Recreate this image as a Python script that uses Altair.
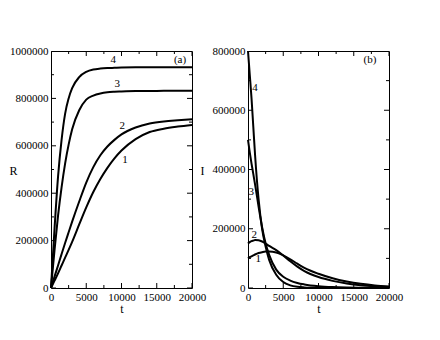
import altair as alt
import pandas as pd

# ---- data ----
t_R = [0, 500, 1000, 1500, 2000, 2500, 3000, 4000, 5000, 6000, 7000, 8000, 9000,
       10000, 12000, 14000, 16000, 18000, 20000]
R1 = [0, 31000, 62000, 95000, 128000, 161000, 195000, 268000, 340000, 405000, 460000,
      507000, 547000, 580000, 628000, 658000, 672000, 681000, 688000]
R2 = [0, 48000, 95000, 143000, 190000, 235000, 280000, 365000, 445000, 510000, 560000,
      597000, 625000, 648000, 677000, 694000, 703000, 708000, 712000]
R3 = [0, 160000, 305000, 425000, 525000, 605000, 670000, 750000, 795000, 812000, 821000,
      826000, 828000, 829000, 831000, 831000, 832000, 832000, 832000]
R4 = [0, 250000, 470000, 625000, 735000, 800000, 843000, 890000, 912000, 922000, 926000,
      928000, 929000, 930000, 931000, 931000, 931000, 931000, 931000]

t_I = [0, 250, 500, 750, 1000, 1500, 2000, 2500, 3000, 4000, 5000, 6000, 7000, 8000,
       10000, 12000, 14000, 16000, 18000, 20000]
I1 = [100000, 104000, 107000, 110000, 113000, 118000, 121000, 123000, 123000, 120000,
      110000, 97000, 82000, 68000, 48000, 33000, 22000, 14000, 8500, 5200]
I2 = [150000, 155000, 158000, 160000, 162000, 161000, 157000, 150000, 142000, 128000,
      110000, 90000, 72000, 57000, 37000, 24000, 15000, 9000, 5500, 3200]
I3 = [500000, 458000, 420000, 385000, 350000, 275000, 205000, 150000, 112000, 62000,
      38000, 25000, 17000, 12000, 6000, 3000, 1500, 800, 400, 200]
I4 = [800000, 720000, 640000, 545000, 450000, 300000, 200000, 140000, 95000, 45000,
      20000, 9000, 4000, 2000, 500, 100, 0, 0, 0, 0]

t_max = 20000
R_max = 1000000
I_max = 800000
x_major = [0, 5000, 10000, 15000, 20000]
x_minor = [2500, 7500, 12500, 17500]
R_major = [0, 200000, 400000, 600000, 800000, 1000000]
R_minor = [100000, 300000, 500000, 700000, 900000]
I_major = [0, 200000, 400000, 600000, 800000]
I_minor = [100000, 300000, 500000, 700000]

lab_R_text = ["1", "2", "3", "4", "(a)"]
lab_R_t = [10500, 10110, 9400, 8840, 18300]
lab_R_v = [540000, 683500, 859000, 962000, 962000]
lab_I_text = ["1", "2", "3", "4", "(b)"]
lab_I_t = [1460, 894, 450, 990, 17300]
lab_I_v = [97000, 179000, 325000, 674000, 770000]

FONT = "Liberation Serif"
W, H = 141, 237
MAJOR_LEN, MINOR_LEN = 10, 6  # half of each tick is clipped away -> 5px / 3px inside


def long_df(ts, series):
    rows = []
    for name, vals in series.items():
        for t, v in zip(ts, vals):
            rows.append({"t": t, "v": v, "curve": name})
    return pd.DataFrame(rows)


def panel(df, lab_df, ymax, ymaj, ymin, ytitle, tx):
    xs = alt.Scale(domain=[0, t_max], nice=False, zero=False)
    ys = alt.Scale(domain=[0, ymax], nice=False)

    lines = alt.Chart(df).mark_line(
        color="black", strokeWidth=2, interpolate="monotone"
    ).encode(
        x=alt.X("t:Q", scale=xs, axis=alt.Axis(
            values=x_major, ticks=False, domain=False, grid=False, labelPadding=3,
            labelFlush=False, format="d", title="t", titlePadding=1)),
        y=alt.Y("v:Q", scale=ys, axis=alt.Axis(
            values=ymaj, ticks=False, domain=False, grid=False, labelPadding=3,
            labelFlush=False, format="d", title=ytitle, titleAngle=0, titleX=tx,
            titleY=119, titleAlign="center", titleBaseline="middle")),
        detail="curve:N",
    )

    layers = [lines]
    # tick marks on all four edges, pointing into the plot
    for vals, size in ((x_major, MAJOR_LEN), (x_minor, MINOR_LEN)):
        for edge in (0, ymax):
            layers.append(
                alt.Chart(pd.DataFrame({"t": vals})).mark_tick(
                    orient="vertical", size=size, thickness=1, color="black",
                    clip=True, opacity=1
                ).encode(
                    x=alt.X("t:Q", scale=xs, axis=None),
                    y=alt.Y(datum=edge, type="quantitative", scale=ys, axis=None),
                )
            )
    for vals, size in ((ymaj, MAJOR_LEN), (ymin, MINOR_LEN)):
        for edge in (0, t_max):
            layers.append(
                alt.Chart(pd.DataFrame({"v": vals})).mark_tick(
                    orient="horizontal", size=size, thickness=1, color="black",
                    clip=True, opacity=1
                ).encode(
                    x=alt.X(datum=edge, type="quantitative", scale=xs, axis=None),
                    y=alt.Y("v:Q", scale=ys, axis=None),
                )
            )
    layers.append(
        alt.Chart(lab_df).mark_text(font=FONT, fontSize=11, color="black").encode(
            x=alt.X("t:Q", scale=xs, axis=None),
            y=alt.Y("v:Q", scale=ys, axis=None),
            text="label:N",
        )
    )
    return alt.layer(*layers).resolve_axis(
        x="independent", y="independent"
    ).properties(width=W, height=H)


dfR = long_df(t_R, {"1": R1, "2": R2, "3": R3, "4": R4})
dfI = long_df(t_I, {"1": I1, "2": I2, "3": I3, "4": I4})
labR = pd.DataFrame({"t": lab_R_t, "v": lab_R_v, "label": lab_R_text})
labI = pd.DataFrame({"t": lab_I_t, "v": lab_I_v, "label": lab_I_text})

left = panel(dfR, labR, R_max, R_major, R_minor, "R", -38)
right = panel(dfI, labI, I_max, I_major, I_minor, "I", -46)

chart = alt.hconcat(left, right, spacing=56, bounds="flush").properties(
    padding={"left": 0, "top": 36, "right": 5, "bottom": 5}
).configure_view(stroke="black", strokeWidth=1).configure_axis(
    labelFont=FONT, labelFontSize=11, labelColor="black",
    titleFont=FONT, titleFontSize=12, titleFontWeight="normal", titleColor="black",
)

chart.save("out.html", embed_options={"renderer": "svg", "actions": False})
